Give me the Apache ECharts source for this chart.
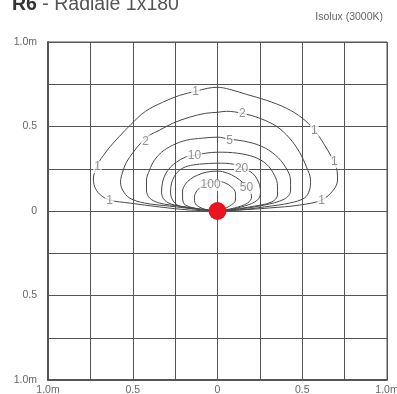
<!DOCTYPE html>
<html>
<head>
<meta charset="utf-8">
<script src="https://cdn.jsdelivr.net/npm/echarts@6/dist/echarts.min.js"></script>
<style>
html,body{margin:0;padding:0;background:#fff;overflow:hidden;}
#chart{width:397px;height:394px;position:relative;}
#title{position:absolute;left:12px;top:-8px;font-family:"Liberation Sans",Arial,sans-serif;font-size:19.5px;color:#555;white-space:nowrap;}
#title b{color:#333;}
#sub{position:absolute;right:14px;top:10px;font-family:"Liberation Sans",Arial,sans-serif;font-size:10.5px;color:#666;}
</style>
</head>
<body>
<div id="chart"></div>
<script>
// Axis ticks and labels (metres)
const tickValues = [-1, -0.5, 0, 0.5, 1];
const tickLabels = ['1.0m', '0.5', '0', '0.5', '1.0m'];

// Isolux contour levels (lux)
const levels = [1, 2, 5, 10, 20, 50, 100];

// Contour paths [x(m), y(m)]
const contour1 = [[0,0],[-0.165,0.006],[-0.342,0.024],[-0.519,0.047],[-0.637,0.065],[-0.696,0.100],[-0.726,0.147],[-0.732,0.195],[-0.720,0.242],[-0.700,0.289],[-0.672,0.330],[-0.632,0.383],[-0.578,0.442],[-0.510,0.513],[-0.425,0.590],[-0.324,0.643],[-0.224,0.684],[-0.130,0.708],[-0.059,0.726],[0,0.732],[0.071,0.720],[0.171,0.690],[0.289,0.655],[0.407,0.608],[0.501,0.549],[0.572,0.478],[0.625,0.401],[0.673,0.319],[0.702,0.254],[0.708,0.183],[0.684,0.124],[0.614,0.065],[0.484,0.035],[0.307,0.018],[0.130,0.006],[0,0]];
const contour2 = [[0,0],[-0.136,0.012],[-0.283,0.029],[-0.431,0.047],[-0.519,0.077],[-0.560,0.124],[-0.572,0.171],[-0.560,0.230],[-0.537,0.289],[-0.501,0.342],[-0.454,0.401],[-0.401,0.448],[-0.342,0.478],[-0.265,0.519],[-0.165,0.555],[-0.071,0.578],[0,0.584],[0.053,0.590],[0.147,0.578],[0.248,0.549],[0.348,0.501],[0.425,0.431],[0.484,0.348],[0.525,0.260],[0.549,0.183],[0.543,0.124],[0.513,0.077],[0.425,0.047],[0.277,0.024],[0.130,0.006],[0,0]];
const contour5 = [[0,0],[-0.106,0.012],[-0.224,0.029],[-0.342,0.047],[-0.401,0.077],[-0.419,0.124],[-0.419,0.183],[-0.401,0.242],[-0.372,0.301],[-0.330,0.348],[-0.265,0.389],[-0.183,0.419],[-0.088,0.431],[0,0.437],[0.071,0.425],[0.159,0.413],[0.260,0.383],[0.342,0.330],[0.401,0.260],[0.431,0.183],[0.431,0.118],[0.395,0.071],[0.277,0.035],[0.130,0.012],[0,0]];
const contour10 = [[0,0],[-0.106,0.012],[-0.254,0.035],[-0.313,0.065],[-0.330,0.112],[-0.324,0.171],[-0.307,0.218],[-0.277,0.260],[-0.242,0.289],[-0.189,0.319],[-0.130,0.330],[-0.071,0.342],[0,0.348],[0.118,0.342],[0.218,0.319],[0.289,0.277],[0.336,0.212],[0.354,0.147],[0.354,0.094],[0.319,0.053],[0.189,0.024],[0.071,0.006],[0,0]];
const contour20 = [[0,0],[-0.077,0.006],[-0.224,0.029],[-0.265,0.065],[-0.277,0.112],[-0.271,0.165],[-0.254,0.206],[-0.224,0.242],[-0.177,0.265],[-0.106,0.277],[0,0.283],[0.094,0.277],[0.147,0.254],[0.206,0.224],[0.242,0.171],[0.254,0.112],[0.236,0.065],[0.159,0.029],[0.059,0.006],[0,0]];
const contour50 = [[0,0],[-0.077,0.006],[-0.189,0.035],[-0.206,0.077],[-0.206,0.118],[-0.189,0.159],[-0.159,0.189],[-0.118,0.212],[-0.065,0.230],[0,0.236],[0.059,0.224],[0.106,0.201],[0.153,0.165],[0.189,0.124],[0.201,0.083],[0.177,0.047],[0.100,0.018],[0,0]];
const contour100 = [[0,0],[-0.059,0.006],[-0.124,0.035],[-0.136,0.071],[-0.130,0.106],[-0.106,0.136],[-0.071,0.159],[-0.035,0.171],[0,0.177],[0.047,0.165],[0.083,0.142],[0.106,0.106],[0.106,0.065],[0.071,0.029],[0.024,0.006],[0,0]];
const contours = [contour1, contour2, contour5, contour10, contour20, contour50, contour100];

// Contour label positions [x, y, text]
const contourLabels = [
  [-0.130,0.708,'1'],[-0.708,0.260,'1'],[-0.637,0.059,'1'],[0.572,0.478,'1'],[0.690,0.289,'1'],[0.614,0.059,'1'],
  [-0.425,0.413,'2'],[0.147,0.578,'2'],
  [0.071,0.419,'5'],
  [-0.136,0.330,'10'],
  [0.142,0.248,'20'],
  [0.171,0.136,'50'],
  [-0.041,0.153,'100']
];

// Luminaire position
const luminaire = [[0, 0]];

const chart = echarts.init(document.getElementById('chart'), null, {renderer:'canvas'});
const font = '"Liberation Sans", Arial, sans-serif';
const labelFor = v => { const i = tickValues.indexOf(v); return i >= 0 ? tickLabels[i] : ''; };

const series = contours.map((c, i) => ({
  type: 'line', name: String(levels[i]), data: c, showSymbol: false, symbol: 'none',
  smooth: 0.35, lineStyle: {color: '#484848', width: 1}, z: 3, silent: true, animation: false
}));
series.push({
  type: 'scatter', data: contourLabels, symbolSize: 0, z: 5, animation: false, silent: true,
  label: {show: true, position: 'inside', formatter: p => p.data[2], color: '#767676',
    fontFamily: font, fontSize: 12, backgroundColor: '#fff', padding: [0, 1, 0, 1]}
});
series.push({
  type: 'scatter', data: luminaire, symbolSize: 18, itemStyle: {color: '#e8141f', opacity: 1}, z: 6, animation: false, silent: true
});

chart.setOption({
  animation: false,
  grid: {left: 48, right: 10, top: 42, bottom: 14, outerBoundsMode: 'none', containLabel: false,
    show: true, borderColor: '#555', borderWidth: 1, backgroundColor: 'transparent'},
  xAxis: {type: 'value', min: -1, max: 1, interval: 0.25,
    axisLine: {show: true, onZero: false, lineStyle: {color: '#555', width: 2}},
    axisTick: {show: false},
    splitLine: {show: true, lineStyle: {color: '#555', width: 1}},
    axisLabel: {formatter: v => labelFor(v), color: '#666', fontFamily: font, fontSize: 10.5, margin: 5, showMinLabel: true, showMaxLabel: true, hideOverlap: false}
  },
  yAxis: {type: 'value', min: -1, max: 1, interval: 0.25,
    axisLine: {show: true, onZero: false, lineStyle: {color: '#555', width: 2}},
    axisTick: {show: false},
    splitLine: {show: true, lineStyle: {color: '#555', width: 1}},
    axisLabel: {formatter: v => labelFor(v), color: '#666', fontFamily: font, fontSize: 10.5, margin: 11, showMinLabel: true, showMaxLabel: true}
  },
  series: series
});
</script>
<div id="title"><b>R6</b> - Radiale 1x180</div>
<div id="sub">Isolux (3000K)</div>
</body>
</html>
